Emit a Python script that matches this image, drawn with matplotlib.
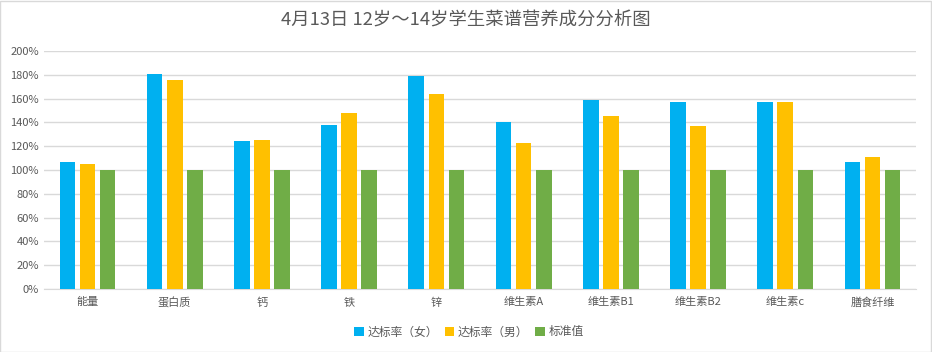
import matplotlib
matplotlib.use("Agg")
import matplotlib.pyplot as plt
import numpy as np
from matplotlib.ticker import FuncFormatter

plt.rcParams['font.family'] = ['Noto Sans CJK SC', 'DejaVu Sans']

categories = ["能量", "蛋白质", "钙", "铁", "锌", "维生素A", "维生素B1", "维生素B2", "维生素c", "膳食纤维"]
female = [107, 181, 124, 138, 179, 140, 159, 157, 157, 107]
male = [105, 176, 125, 148, 164, 123, 145, 137, 157, 111]
standard = [100, 100, 100, 100, 100, 100, 100, 100, 100, 100]
series_names = ["达标率（女）", "达标率（男）", "标准值"]
colors = ["#00B0F0", "#FFC000", "#70AD47"]
title = "4月13日 12岁～14岁学生菜谱营养成分分析图"

fig = plt.figure(figsize=(9.32, 3.52), dpi=100)
fig.patch.set_facecolor("white")
ax = fig.add_axes([0.047, 0.179, 0.936, 0.676])

x = np.arange(len(categories))
w = 0.18
off = 0.23
for i, (vals, name, c) in enumerate(zip([female, male, standard], series_names, colors)):
    ax.bar(x + (i - 1) * off, vals, width=w, color=c, label=name, zorder=3)

ax.set_xlim(-0.5, len(categories) - 0.5)
ax.set_ylim(0, 200)
ax.set_yticks(np.arange(0, 201, 20))
ax.yaxis.set_major_formatter(FuncFormatter(lambda v, p: f"{int(v)}%"))
ax.set_xticks(x)
ax.set_xticklabels(categories)
ax.grid(axis="y", color="#D9D9D9", linewidth=1, zorder=0)
for s in ["top", "right", "left"]:
    ax.spines[s].set_visible(False)
ax.spines["bottom"].set_color("#D9D9D9")
ax.tick_params(axis="both", length=0, colors="#595959", labelsize=8)
ax.tick_params(axis="x", pad=6)

fig.suptitle(title, y=0.968, fontsize=13.2, color="#595959")
fig.legend(loc="center", bbox_to_anchor=(0.503, 0.057), ncol=3, frameon=False,
           fontsize=8.5, handlelength=0.8, handleheight=0.8, handletextpad=0.3,
           columnspacing=0.6, labelcolor="#595959")

border = plt.Rectangle((0.0005, 0.001), 0.998, 0.997, transform=fig.transFigure,
                       fill=False, edgecolor="#D9D9D9", linewidth=1)
fig.add_artist(border)

fig.savefig("out.png", dpi=100)
